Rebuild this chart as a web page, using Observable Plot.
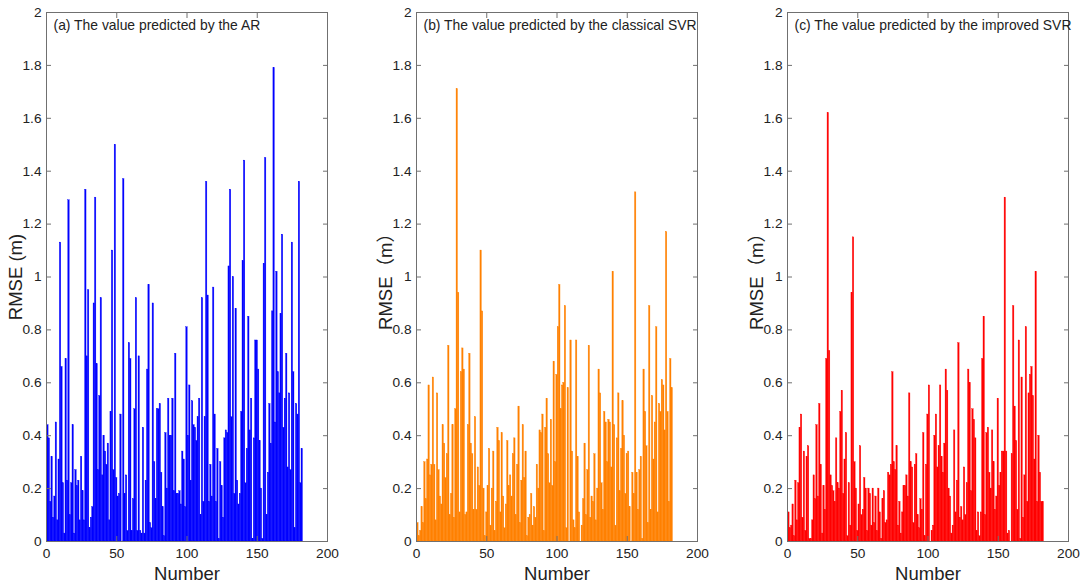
<!DOCTYPE html>
<html><head><meta charset="utf-8">
<script src="https://cdn.jsdelivr.net/npm/d3@7"></script>
<script src="https://cdn.jsdelivr.net/npm/@observablehq/plot@0.6"></script>
<style>
body{margin:0;background:#fff;}
#wrap{position:relative;width:1084px;height:584px;overflow:hidden;background:#fff;}
#wrap svg{position:absolute;top:0;}
</style></head><body><div id="wrap"></div>
<script>
const arValues = [
0.44,0.39,0.15,0.32,0.09,0.17,0.45,0.08,0.31,1.13,
0.66,0.22,0.03,0.69,0.23,1.29,0.10,0.22,0.44,0.03,
0.27,0.21,0.23,0.08,0.32,0.19,0.08,1.33,0.70,0.95,
0.05,0.09,0.13,0.90,1.30,0.67,0.27,0.55,0.92,0.25,
0.40,0.34,0.29,0.37,0.08,0.49,1.10,0.27,1.50,0.24,
0.17,0.18,0.48,0.00,1.37,0.18,0.25,0.04,0.75,0.69,
0.04,0.16,0.50,0.92,0.04,0.70,0.04,0.03,0.43,0.03,
0.23,0.65,0.97,0.07,0.05,0.90,0.30,0.16,0.50,0.50,
0.52,0.26,0.13,0.02,0.41,0.20,0.54,0.40,0.40,0.54,
0.19,0.71,0.18,0.18,0.19,0.14,0.34,0.31,0.13,0.81,
0.40,0.59,0.23,0.53,0.44,0.43,0.38,0.47,0.54,0.10,
0.92,0.15,0.47,1.36,0.93,0.15,0.29,0.17,0.96,0.48,
0.15,0.35,0.01,0.30,0.21,0.09,0.39,0.42,0.41,1.04,
1.33,0.47,1.00,0.18,0.88,0.23,0.14,0.18,0.49,1.06,
1.44,0.22,0.35,0.85,0.42,0.54,0.01,0.39,0.76,0.76,
0.65,0.38,0.20,0.01,1.05,1.45,0.10,0.26,0.52,0.37,
0.87,1.79,0.45,1.02,0.64,0.56,0.86,1.16,0.43,0.54,
0.71,0.28,0.56,0.27,1.13,0.64,0.05,0.52,0.48,1.36,
0.22,0.35];

const svrValues = [
0.07,0.02,0.04,0.13,0.07,0.30,0.16,0.31,0.59,0.25,
0.29,0.62,0.29,0.08,0.56,0.27,0.17,0.14,0.44,0.37,
0.24,0.33,0.74,0.10,0.18,0.44,0.09,0.50,1.71,0.94,
0.11,0.64,0.73,0.65,0.10,0.11,0.44,0.71,0.37,0.33,
0.12,0.47,0.12,0.28,0.21,1.10,0.87,0.20,0.02,0.11,
0.21,0.35,0.06,0.20,0.34,0.04,0.15,0.43,0.38,0.11,
0.41,0.17,0.05,0.14,0.38,0.21,0.25,0.17,0.33,
0.39,0.10,0.29,0.51,0.07,0.23,0.44,0.24,0.34,0.02,
0.09,0.10,0.18,0.06,0.13,0.09,0.29,0.20,0.42,0.41,
0.48,0.04,0.43,0.54,0.33,0.22,0.46,0.21,0.68,0.30,
0.63,0.81,0.97,0.50,0.59,0.60,0.89,0.05,0.58,0.00,
0.76,0.34,0.08,0.05,0.76,0.32,0.11,0.00,0.06,0.16,
0.37,0.10,0.27,0.74,0.09,0.17,0.15,0.33,0.08,0.20,
0.65,0.56,0.22,0.12,0.49,0.45,0.30,0.46,0.45,0.28,
1.02,0.44,0.06,0.39,0.56,0.19,0.35,0.53,0.40,0.18,
0.33,0.34,0.13,0.00,0.26,0.18,1.32,0.26,0.12,0.27,
0.32,0.01,0.65,0.49,0.36,0.07,0.89,0.12,0.55,0.31,
0.45,0.81,0.11,0.52,0.49,0.61,0.59,0.42,1.17,0.49,
0.15,0.69,0.58];

const improvedValues = [
0.11,0.05,0.06,0.14,0.02,0.23,0.08,0.22,0.43,0.48,
0.09,0.34,0.04,0.32,0.36,0.01,0.01,0.08,0.25,0.16,
0.44,0.17,0.52,0.29,0.03,0.21,0.12,0.69,1.62,0.72,
0.25,0.21,0.19,0.15,0.39,0.22,0.20,0.49,0.57,0.18,
0.31,0.41,0.02,0.22,0.06,0.94,1.15,0.30,0.20,0.04,
0.14,0.36,0.10,0.12,0.24,0.20,0.04,0.20,0.18,0.06,
0.20,0.07,0.17,0.04,0.20,0.11,0.01,0.16,0.19,0.07,
0.08,0.26,0.25,0.29,0.64,0.30,0.27,0.36,0.06,0.15,
0.03,0.11,0.21,0.21,0.25,0.17,0.56,0.30,0.28,0.07,
0.29,0.33,0.10,0.05,0.16,0.12,0.41,0.02,0.29,0.48,
0.59,0.00,0.04,0.06,0.40,0.48,0.28,0.36,0.59,0.32,
0.26,0.37,0.65,0.57,0.20,0.17,0.03,0.06,0.42,0.11,
0.23,0.75,0.09,0.13,0.08,0.28,0.10,0.22,0.65,0.60,
0.19,0.50,0.46,0.39,0.04,0.11,0.02,0.11,0.69,0.85,
0.10,0.41,0.43,0.26,0.20,0.42,0.30,0.12,0.17,0.54,
0.21,0.26,0.34,0.34,1.30,0.34,0.03,0.04,0.00,0.33,
0.89,0.51,0.38,0.12,0.76,0.01,0.62,0.09,0.25,0.81,
0.15,0.56,0.63,0.66,0.55,0.31,1.02,0.15,0.40,0.26,
0.15,0.15];

const panelTitles = [
  "(a) The value predicted by the AR",
  "(b) The value predicted by the classical SVR",
  "(c) The value predicted by the improved SVR"
];
const yLabels = ["RMSE (m)", "RMSE\uFF08m\uFF09", "RMSE\uFF08m\uFF09"];
const xLabel = "Number";
const yTicks = [0, 0.2, 0.4, 0.6, 0.8, 1, 1.2, 1.4, 1.6, 1.8, 2];
const xTicks = [0, 50, 100, 150, 200];
const barColors = ["#0000ff", "#ff8000", "#ff0000"];
const seriesList = [arValues, svrValues, improvedValues];

const FONT = "Arial, 'Liberation Sans', 'Noto Sans CJK SC', sans-serif";
const lefts = [0, 370, 741];
const widths = [370, 370, 343];
const mRight = [43, 43, 16];
const wrap = document.getElementById("wrap");

seriesList.forEach((vals, i) => {
  const data = vals.map((v, k) => ({n: k + 1, v}));
  const chart = Plot.plot({
    width: widths[i],
    height: 584,
    marginLeft: 46,
    marginRight: mRight[i],
    marginTop: 12,
    marginBottom: 43,
    style: {fontFamily: FONT, fontSize: "13.5px", color: "#222", background: "transparent"},
    x: {domain: [0, 200]},
    y: {domain: [0, 2]},
    marks: [
      Plot.rectY(data, {x1: d => d.n - 0.5, x2: d => d.n + 0.5, y: "v", fill: barColors[i], stroke: barColors[i], strokeWidth: 0.35}),
      Plot.frame({stroke: "#707070", strokeWidth: 1}),
      Plot.axisY(yTicks, {anchor: "left", tickSize: 5, dx: 5, text: null, label: null, stroke: "#707070"}),
      Plot.axisY(yTicks, {anchor: "right", tickSize: 5, dx: -5, text: null, label: null, stroke: "#707070"}),
      Plot.axisY(yTicks, {anchor: "left", tickSize: 0, tickPadding: 5, tickFormat: d => String(d), label: null, fontSize: 13.7, fill: "#222"}),
      Plot.axisX(xTicks, {anchor: "bottom", tickSize: 5, dy: -5, text: null, label: null, stroke: "#707070"}),
      Plot.axisX(xTicks, {anchor: "top", tickSize: 5, dy: 5, text: null, label: null, stroke: "#707070"}),
      Plot.axisX(xTicks, {anchor: "bottom", tickSize: 0, tickPadding: 7, tickFormat: d => String(d), label: null, fontSize: 13.7, fill: "#222"}),
      Plot.text([panelTitles[i]], {frameAnchor: "top-left", dx: 7, dy: 13, lineAnchor: "middle", textAnchor: "start", fontSize: 13.9, fill: "#222"}),
      Plot.text([yLabels[i]], {frameAnchor: "left", dx: -30, rotate: -90, textAnchor: "middle", lineAnchor: "middle", fontSize: 18.5, fill: "#222"}),
      Plot.text([xLabel], {frameAnchor: "bottom", dy: 33, textAnchor: "middle", lineAnchor: "middle", fontSize: 18.5, fill: "#222"})
    ]
  });
  chart.style.left = lefts[i] + "px";
  wrap.appendChild(chart);
});
</script>
</body></html>
